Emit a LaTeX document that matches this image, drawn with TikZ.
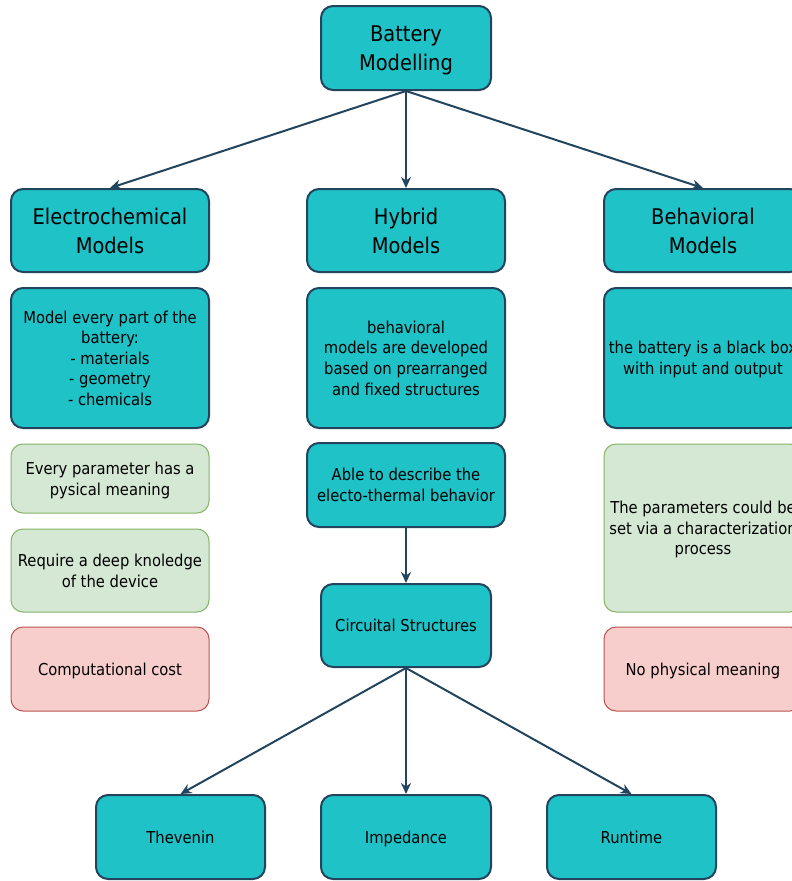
\documentclass[tikz,border=0pt]{standalone}
\usepackage{fontspec}
\setmainfont{DejaVu Sans Condensed}
\usetikzlibrary{arrows.meta}
\definecolor{tealfill}{HTML}{1FC2C7}
\definecolor{navy}{HTML}{23445D}
\definecolor{greenfill}{HTML}{D5E8D4}
\definecolor{greenline}{HTML}{82B366}
\definecolor{redfill}{HTML}{F8CECC}
\definecolor{redline}{HTML}{B85450}
\tikzset{
  x=1pt, y=-1pt,
  box/.style={rounded corners=12pt, align=center, inner sep=0pt, text depth=0pt, text=black},
  mainbox/.style={box, fill=tealfill, draw=navy, line width=2pt},
  prosbox/.style={box, fill=greenfill, draw=greenline, line width=1pt},
  consbox/.style={box, fill=redfill, draw=redline, line width=1pt},
  bigtext/.style={font=\fontsize{21.6}{28.8}\selectfont},
  smalltext/.style={font=\fontsize{16.4}{20.6}\selectfont},
  link/.style={draw=navy, line width=2pt, -{Stealth[length=11pt,width=10pt]}}
}
\begin{document}
\begin{tikzpicture}
\useasboundingbox (0,0) rectangle (792,881);
\clip (0,0) rectangle (792,881);

% top level
\node[mainbox, bigtext, minimum width=170pt, minimum height=84pt] (bat) at (406,48) {Battery\\Modelling};

% model families
\node[mainbox, bigtext, minimum width=198pt, minimum height=83pt] (elec) at (110,230.5) {Electrochemical\\Models};
\node[mainbox, bigtext, minimum width=198pt, minimum height=83pt] (hyb) at (406,230.5) {Hybrid\\Models};
\node[mainbox, bigtext, minimum width=198pt, minimum height=83pt] (beh) at (703,230.5) {Behavioral\\Models};

% descriptions
\node[mainbox, smalltext, minimum width=198pt, minimum height=140pt] (elecdesc) at (110,358) {Model every part of the\\battery:\\- materials\\- geometry\\- chemicals};
\node[mainbox, smalltext, minimum width=198pt, minimum height=140pt] (hybdesc) at (406,358) {behavioral\\models are developed\\based on prearranged\\and fixed structures};
\node[mainbox, smalltext, minimum width=198pt, minimum height=140pt] (behdesc) at (703,358) {the battery is a black box\\with input and output};

% electrochemical pros / cons
\node[prosbox, smalltext, minimum width=198pt, minimum height=69pt] (elecpro1) at (110,478.5) {Every parameter has a\\pysical meaning};
\node[prosbox, smalltext, minimum width=198pt, minimum height=83pt] (elecpro2) at (110,570.5) {Require a deep knoledge\\of the device};
\node[consbox, smalltext, minimum width=198pt, minimum height=84pt] (eleccon) at (110,669) {Computational cost};

% hybrid branch
\node[mainbox, smalltext, minimum width=198pt, minimum height=84pt] (able) at (406,485) {Able to describe the\\electo-thermal behavior};
\node[mainbox, smalltext, minimum width=170pt, minimum height=83pt] (circ) at (406,625.5) {Circuital Structures};

% behavioral pros / cons
\node[prosbox, smalltext, minimum width=198pt, minimum height=168pt] (behpro) at (703,528) {The parameters could be\\set via a characterization\\process};
\node[consbox, smalltext, minimum width=198pt, minimum height=84pt] (behcon) at (703,669) {No physical meaning};

% circuit models
\node[mainbox, smalltext, minimum width=169pt, minimum height=84pt] (thev) at (180.5,837) {Thevenin};
\node[mainbox, smalltext, minimum width=170pt, minimum height=84pt] (imp) at (406,837) {Impedance};
\node[mainbox, smalltext, minimum width=169pt, minimum height=84pt] (run) at (631.5,837) {Runtime};

% connectors
\draw[link] (bat.south) -- (elec.north);
\draw[link] (bat.south) -- (hyb.north);
\draw[link] (bat.south) -- (beh.north);
\draw[link] (able.south) -- (circ.north);
\draw[link] (circ.south) -- (thev.north);
\draw[link] (circ.south) -- (imp.north);
\draw[link] (circ.south) -- (run.north);
\end{tikzpicture}
\end{document}
